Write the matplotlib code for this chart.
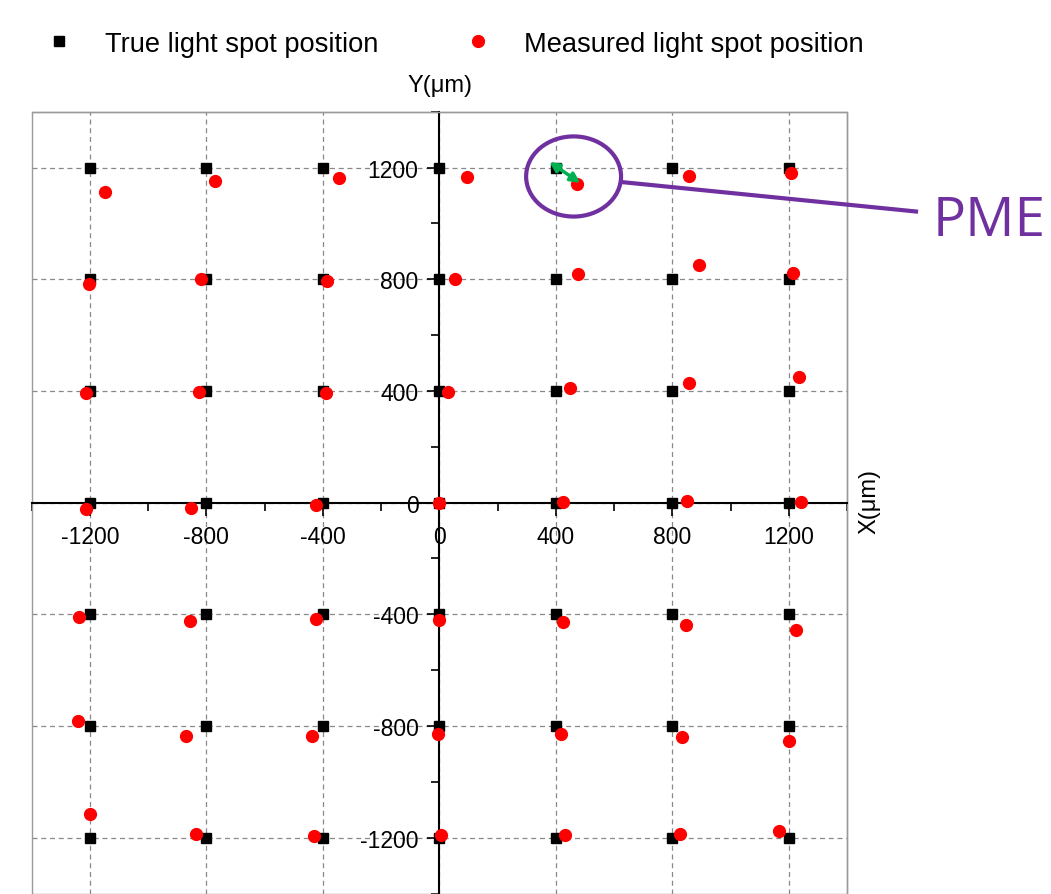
import matplotlib
matplotlib.use("Agg")
import matplotlib.pyplot as plt
from matplotlib.ticker import MultipleLocator
from matplotlib.patches import Ellipse, Rectangle
from matplotlib.lines import Line2D

plt.rcParams['font.family'] = ['Liberation Sans', 'DejaVu Sans']
plt.rcParams['axes.unicode_minus'] = False

# grid of true positions (um)
grid_x = [-1200, -800, -400, 0, 400, 800, 1200]
grid_y = [1200, 800, 400, 0, -400, -800, -1200]

true_x = [x for y in grid_y for x in grid_x]
true_y = [y for y in grid_y for x in grid_x]

# measured positions, row by row (y = 1200 ... -1200), columns x = -1200 ... 1200
meas_x = [-1149, -771, -346, 95, 473, 856, 1207,
          -1204, -820, -386, 53, 476, 891, 1214,
          -1215, -826, -388, 29, 447, 858, 1236,
          -1213, -852, -422, 0, 423, 852, 1242,
          -1238, -855, -425, 0, 425, 846, 1224,
          -1242, -870, -437, -6, 419, 833, 1202,
          -1200, -837, -429, 6, 433, 827, 1165]
meas_y = [1112, 1152, 1162, 1167, 1142, 1169, 1181,
          784, 800, 793, 802, 819, 850, 822,
          393, 396, 392, 396, 411, 428, 451,
          -23, -18, -10, 0, 3, 7, 1,
          -408, -424, -417, -420, -428, -439, -458,
          -781, -835, -835, -830, -829, -838, -853,
          -1117, -1188, -1194, -1192, -1190, -1186, -1176]

W, H = 1051, 895
fig = plt.figure(figsize=(W / 100, H / 100), dpi=100)
ax = fig.add_axes([31.7 / W, 0.5 / H, (847 - 31.7) / W, (894.5 - 112.7) / H])

ax.plot(true_x, true_y, 's', color='black', ms=7.5, zorder=3, clip_on=False,
        label='True light spot position')
ax.plot(meas_x, meas_y, 'o', color='red', ms=8.5, zorder=4, clip_on=False,
        label='Measured light spot position')

ax.set_xlim(-1400, 1400)
ax.set_ylim(-1400, 1400)
ax.xaxis.set_major_locator(MultipleLocator(400))
ax.yaxis.set_major_locator(MultipleLocator(400))
ax.xaxis.set_minor_locator(MultipleLocator(200))
ax.yaxis.set_minor_locator(MultipleLocator(200))

ax.spines['left'].set_position(('data', 0))
ax.spines['bottom'].set_position(('data', 0))
for s in ['left', 'bottom']:
    ax.spines[s].set_linewidth(1.5)
    ax.spines[s].set_color('black')
for s in ['top', 'right']:
    ax.spines[s].set_color('#9a9a9a')
    ax.spines[s].set_linewidth(1.0)
ax.add_patch(Rectangle((0, 0), 1, 1, transform=ax.transAxes, fill=False,
                       edgecolor='#9a9a9a', lw=1.0, clip_on=False, zorder=1))

ax.tick_params(axis='both', which='major', direction='out', length=9, width=1.2,
               labelsize=16.5)
ax.tick_params(axis='both', which='minor', direction='out', length=5.5, width=1.2)
ax.tick_params(axis='x', which='major', pad=7)
ax.tick_params(axis='y', which='major', pad=6)

ax.grid(True, which='major', ls=(0, (4, 3)), color='#888888', lw=0.9, zorder=0)
ax.set_axisbelow(True)

fig.text(440 / W, 1 - 86 / H, 'Y(μm)', fontsize=17, ha='center', va='center')
fig.text(869 / W, 1 - 501 / H, 'X(μm)', fontsize=17, ha='center', va='center',
         rotation=90)

fig.legend(loc='center left', bbox_to_anchor=(45.5 / W, 1 - 45 / H), ncol=2,
           frameon=False, fontsize=19.6, handlelength=1.0, handletextpad=1.2,
           columnspacing=3.15, borderpad=0, borderaxespad=0, markerscale=1.0)

# PME annotation
purple = '#7030A0'
ax.add_patch(Ellipse((461, 1168), 326, 287, fill=False, edgecolor=purple, lw=3,
                     zorder=5, clip_on=False))
ax.annotate('', xy=(484, 1145), xytext=(378, 1220),
            arrowprops=dict(arrowstyle='<|-|>', color='#00B050', lw=2.5,
                            mutation_scale=14, shrinkA=0, shrinkB=0), zorder=6)
fig.add_artist(Line2D([621 / W, 916 / W], [1 - 183 / H, 1 - 212.5 / H],
                      color=purple, lw=3))
fig.text(933 / W, 1 - 222 / H, 'PME', fontsize=39.5, color=purple,
         family='Open Sans', ha='left', va='center')

fig.savefig('out.png', dpi=100)
